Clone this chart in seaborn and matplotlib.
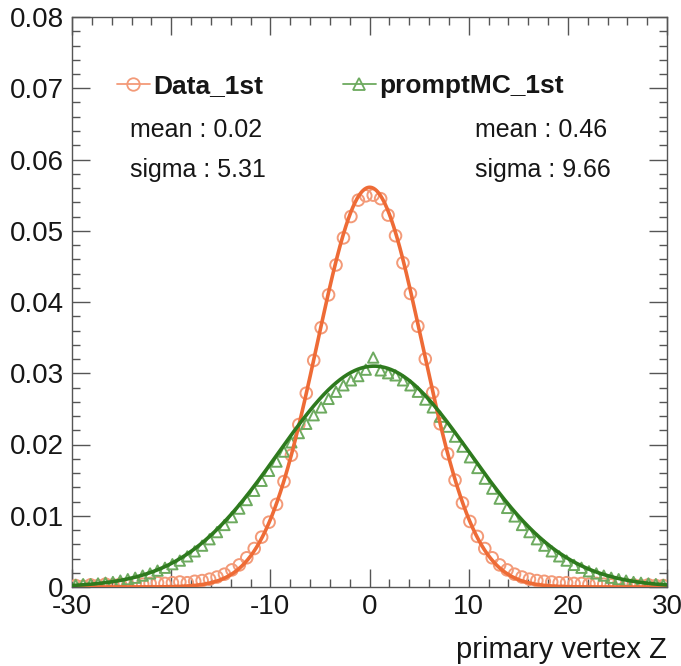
import numpy as np
import pandas as pd
import matplotlib
matplotlib.use("Agg")
import matplotlib.pyplot as plt
import seaborn as sns
from matplotlib.lines import Line2D
from matplotlib.ticker import MultipleLocator

# ---- data ----
bin_width = 0.75
bin_centers = -30 + bin_width / 2 + bin_width * np.arange(80)

data_1st = [
    0.0002, 0.0001, 0.0003, 0.0002, 0.0004, 0.0003, 0.0004, 0.0003, 0.0005, 0.0004,
    0.0005, 0.0006, 0.0005, 0.0006, 0.0007, 0.0006, 0.0008, 0.0009, 0.0011, 0.0014,
    0.0018, 0.0024, 0.0031, 0.0041, 0.0054, 0.0070, 0.0091, 0.0116, 0.0148, 0.0185,
    0.0228, 0.0272, 0.0318, 0.0364, 0.0410, 0.0452, 0.0490, 0.0520, 0.0543, 0.0549,
    0.0550, 0.0545, 0.0522, 0.0493, 0.0455, 0.0412, 0.0366, 0.0320, 0.0273, 0.0229,
    0.0187, 0.0150, 0.0118, 0.0092, 0.0071, 0.0054, 0.0041, 0.0031, 0.0024, 0.0018,
    0.0014, 0.0011, 0.0009, 0.0008, 0.0007, 0.0006, 0.0006, 0.0005, 0.0005, 0.0004,
    0.0005, 0.0004, 0.0003, 0.0004, 0.0003, 0.0003, 0.0002, 0.0003, 0.0002, 0.0002,
]
prompt_mc_1st = [
    0.0003, 0.0004, 0.0004, 0.0005, 0.0006, 0.0007, 0.0009, 0.0011, 0.0013, 0.0016,
    0.0019, 0.0023, 0.0027, 0.0032, 0.0037, 0.0043, 0.0050, 0.0058, 0.0067, 0.0077,
    0.0087, 0.0098, 0.0110, 0.0122, 0.0135, 0.0149, 0.0163, 0.0176, 0.0190, 0.0203,
    0.0216, 0.0229, 0.0241, 0.0252, 0.0264, 0.0274, 0.0283, 0.0290, 0.0296, 0.0305,
    0.0322, 0.0304, 0.0300, 0.0297, 0.0290, 0.0283, 0.0274, 0.0263, 0.0252, 0.0239,
    0.0225, 0.0211, 0.0197, 0.0182, 0.0167, 0.0152, 0.0138, 0.0124, 0.0111, 0.0099,
    0.0087, 0.0077, 0.0067, 0.0058, 0.0050, 0.0043, 0.0037, 0.0031, 0.0027, 0.0022,
    0.0019, 0.0016, 0.0013, 0.0011, 0.0009, 0.0007, 0.0006, 0.0005, 0.0004, 0.0003,
]

# Gaussian fit parameters (shown in the chart)
data_mean, data_sigma, data_amp = 0.02, 5.31, 0.0561
mc_mean, mc_sigma, mc_amp = 0.46, 9.66, 0.0310

series_labels = ["Data_1st", "promptMC_1st"]
x_ticks = [-30, -20, -10, 0, 10, 20, 30]
y_ticks = [0, 0.01, 0.02, 0.03, 0.04, 0.05, 0.06, 0.07, 0.08]
y_tick_labels = ["0", "0.01", "0.02", "0.03", "0.04", "0.05", "0.06", "0.07", "0.08"]

# ---- style ----
orange_line = "#EE6B36"
orange_mark = "#F39A78"
green_line = "#2E7A1E"
green_mark = "#6DAA5F"
frame_col = "#555555"
text_col = "#161616"

sns.set_theme(style="ticks")
plt.rcParams["font.family"] = ["Liberation Sans", "DejaVu Sans"]

fig = plt.figure(figsize=(6.81, 6.66), dpi=100)
ax = fig.add_axes([72 / 681, 1 - 587 / 666, (667 - 72) / 681, (587 - 17) / 666])

df = pd.DataFrame({"x": bin_centers, "data": data_1st, "mc": prompt_mc_1st})

xs = np.linspace(-30, 30, 800)
fit_df = pd.DataFrame({
    "x": xs,
    "data_fit": data_amp * np.exp(-0.5 * ((xs - data_mean) / data_sigma) ** 2),
    "mc_fit": mc_amp * np.exp(-0.5 * ((xs - mc_mean) / mc_sigma) ** 2),
})

sns.scatterplot(data=df, x="x", y="data", marker="o", s=70, facecolors="none",
                edgecolor=orange_mark, linewidth=1.4, ax=ax, zorder=3)
sns.scatterplot(data=df, x="x", y="mc", marker="^", s=55, facecolors="none",
                edgecolor=green_mark, linewidth=1.4, ax=ax, zorder=3)
sns.lineplot(data=fit_df, x="x", y="data_fit", color=orange_line, lw=2.6, ax=ax, zorder=4)
sns.lineplot(data=fit_df, x="x", y="mc_fit", color=green_line, lw=2.6, ax=ax, zorder=4)

ax.set_xlim(-30, 30)
ax.set_ylim(0, 0.08)
ax.set_xticks(x_ticks)
ax.set_xticklabels([str(t) for t in x_ticks])
ax.set_yticks(y_ticks)
ax.set_yticklabels(y_tick_labels)
ax.xaxis.set_minor_locator(MultipleLocator(2))
ax.yaxis.set_minor_locator(MultipleLocator(0.002))
ax.tick_params(which="both", direction="in", top=True, right=True, color=frame_col,
               labelsize=20, labelcolor=text_col)
ax.tick_params(which="major", length=13, width=1.0)
ax.tick_params(which="minor", length=6, width=1.0)
ax.tick_params(axis="y", pad=6)
ax.tick_params(axis="x", pad=5)
for sp in ax.spines.values():
    sp.set_color(frame_col)
    sp.set_linewidth(1.0)

ax.set_xlabel("")
ax.set_ylabel("")
fig.text(667 / 681, 1 - 650 / 666, "primary vertex Z", ha="right", va="center",
         fontsize=21, color=text_col)

handles = [
    Line2D([], [], color=orange_mark, marker="o", mfc="none", ms=9, mew=1.3, lw=1.3),
    Line2D([], [], color=green_mark, marker="^", mfc="none", ms=8, mew=1.3, lw=1.3),
]
leg = ax.legend(handles, series_labels, loc="upper left", bbox_to_anchor=(0.075, 0.9),
                ncol=2, frameon=False, borderpad=0, borderaxespad=0, handlelength=1.25,
                handletextpad=0.15, columnspacing=3.0,
                prop={"weight": "bold", "size": 19})
for t in leg.get_texts():
    t.set_color(text_col)

stat_kw = dict(transform=ax.transAxes, fontsize=18, color=text_col, va="center", ha="left")
ax.text(0.0975, 0.802, f"mean : {data_mean:.2f}", **stat_kw)
ax.text(0.0975, 0.732, f"sigma : {data_sigma:.2f}", **stat_kw)
ax.text(0.677, 0.802, f"mean : {mc_mean:.2f}", **stat_kw)
ax.text(0.677, 0.732, f"sigma : {mc_sigma:.2f}", **stat_kw)

fig.savefig("out.png", dpi=100)
